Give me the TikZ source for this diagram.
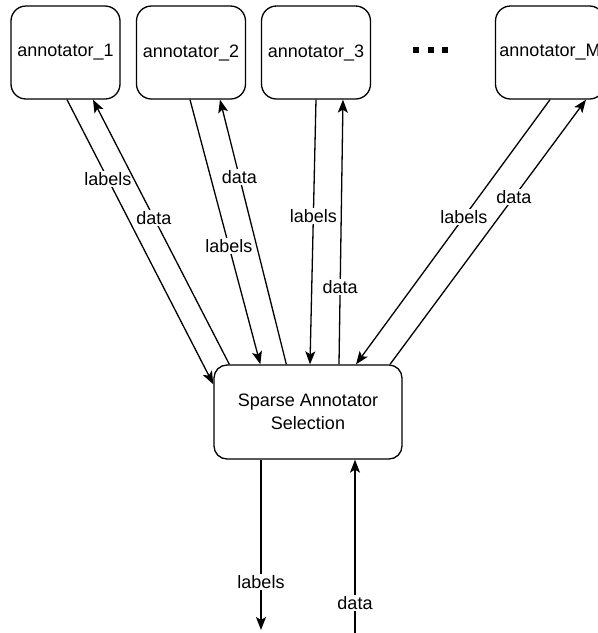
\documentclass[tikz,border=0pt]{standalone}
\usepackage{fontspec}
\setmainfont{Liberation Sans}
\usetikzlibrary{arrows.meta}
\tikzset{
  box/.style={draw, line width=1.3pt, rounded corners=15pt, minimum width=109pt, minimum height=93pt, inner sep=0pt, font=\fontsize{18}{21}\selectfont},
  selbox/.style={draw, line width=1.3pt, rounded corners=13pt, minimum width=188pt, minimum height=94pt, align=center, inner sep=0pt, font=\fontsize{18}{23}\selectfont},
  flow/.style={line width=1.3pt, -{Stealth[length=13pt,width=10pt,inset=3pt]}},
  plain/.style={line width=1.3pt},
  tag/.style={fill=white, inner sep=1.5pt, font=\fontsize{18}{21}\selectfont}
}
\begin{document}
\begin{tikzpicture}[x=1pt, y=-1pt]
\useasboundingbox (0,0) rectangle (598,633);
\clip (0,0) rectangle (598,633);

% annotator boxes
\node[box] (a1) at (65.5,52.5) {annotator\_1};
\node[box] (a2) at (191,52.5) {annotator\_2};
\node[box] (a3) at (316,52.5) {annotator\_3};
\node[box] (aM) at (550,52.5) {annotator\_M};

% ellipsis between annotator_3 and annotator_M
\foreach \x in {416,431,445} \fill (\x-3,47) rectangle (\x+3,53);

% central selection block
\node[selbox] (sel) at (308,412) {Sparse Annotator\\Selection};

% annotator_1
\draw[flow] ([xshift=1.5pt]a1.south) -- ([yshift=-20pt]sel.north west)
  node[tag, pos=0.28] {labels};
\draw[flow] ([xshift=16pt]sel.north west) -- ([xshift=27.5pt]a1.south)
  node[tag, pos=0.553] {data};

% annotator_2
\draw[flow] ([xshift=-1pt]a2.south) -- ([xshift=47pt]sel.north west)
  node[tag, pos=0.553] {labels};
\draw[flow] ([xshift=73pt]sel.north west) -- ([xshift=29pt]a2.south)
  node[tag, pos=0.707] {data};

% annotator_3
\draw[flow] (a3.south) -- ([xshift=2pt]sel.north)
  node[tag, pos=0.44] {labels};
\draw[flow] ([xshift=31pt]sel.north) -- ([xshift=27pt]a3.south)
  node[tag, pos=0.293] {data};

% annotator_M
\draw[flow] (aM.south) -- ([xshift=48pt]sel.north)
  node[tag, pos=0.444] {labels};
\draw[flow] ([xshift=82pt]sel.north) -- ([xshift=36pt]aM.south)
  node[tag, pos=0.632] {data};

% output and input of the selection block
\coordinate (out) at (261,630);
\coordinate (in) at (355,633);
\draw[flow] ([xshift=-47pt]sel.south) -- (out)
  node[tag, pos=0.72] {labels};
\draw[flow] (in) -- ([xshift=47pt]sel.south)
  node[tag, pos=0.172] {data};
\end{tikzpicture}
\end{document}
